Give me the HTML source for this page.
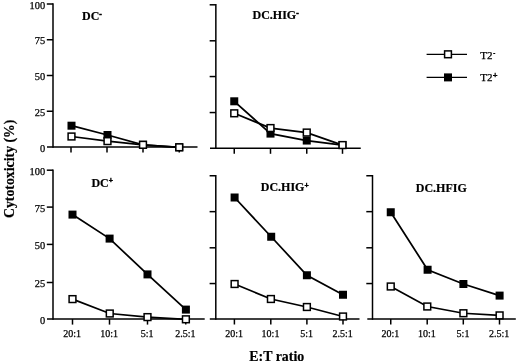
<!DOCTYPE html>
<html><head><meta charset="utf-8"><title>Cytotoxicity chart</title>
<style>
html,body{margin:0;padding:0;background:#fff;}
body{width:520px;height:363px;overflow:hidden;font-family:"Liberation Serif",serif;}
svg{display:block;}
</style></head><body>
<svg width="520" height="363" viewBox="0 0 520 363">
<defs><filter id="soft" x="0" y="0" width="520" height="363" filterUnits="userSpaceOnUse"><feGaussianBlur stdDeviation="0.45"/></filter></defs>
<rect width="520" height="363" fill="#fff"/>
<g filter="url(#soft)">
<g stroke="#000" stroke-width="1.5" fill="none" stroke-linecap="butt">
<path d="M53 3.25 V147.75"/>
<path d="M47 147 H197.5"/>
<path d="M46.8 4 H53"/>
<path d="M46.8 39.75 H53"/>
<path d="M46.8 75.5 H53"/>
<path d="M46.8 111.25 H53"/>
<path d="M71 147 V152.5"/>
<path d="M107 147 V152.5"/>
<path d="M143 147 V152.5"/>
<path d="M179.25 147 V152.5"/>
<path d="M215.85 4.05 V149.05"/>
<path d="M210 148.3 H360.75"/>
<path d="M209.65 4.8 H215.85"/>
<path d="M209.65 40.8 H215.85"/>
<path d="M209.65 76.55 H215.85"/>
<path d="M209.65 112.55 H215.85"/>
<path d="M234.25 148.3 V153.8"/>
<path d="M270.5 148.3 V153.8"/>
<path d="M306.75 148.3 V153.8"/>
<path d="M342.5 148.3 V153.8"/>
<path d="M53 169.45 V319.85"/>
<path d="M47 319.1 H204.7"/>
<path d="M46.8 170.2 H53"/>
<path d="M46.8 207.1 H53"/>
<path d="M46.8 244.4 H53"/>
<path d="M46.8 282.5 H53"/>
<path d="M72.5 319.1 V324.6"/>
<path d="M109.5 319.1 V324.6"/>
<path d="M147.5 319.1 V324.6"/>
<path d="M185.75 319.1 V324.6"/>
<path d="M215.8 175.0 V319.75"/>
<path d="M209.8 319.0 H359.5"/>
<path d="M209.60000000000002 175.75 H215.8"/>
<path d="M209.60000000000002 211.65 H215.8"/>
<path d="M209.60000000000002 247.8 H215.8"/>
<path d="M209.60000000000002 283.55 H215.8"/>
<path d="M234.4 319.0 V324.5"/>
<path d="M270.8 319.0 V324.5"/>
<path d="M306.9 319.0 V324.5"/>
<path d="M343 319.0 V324.5"/>
<path d="M372.5 175.0 V319.75"/>
<path d="M367.3 319.0 H515.8"/>
<path d="M366.3 175.75 H372.5"/>
<path d="M366.3 211.65 H372.5"/>
<path d="M366.3 247.8 H372.5"/>
<path d="M366.3 283.55 H372.5"/>
<path d="M390.75 319.0 V324.5"/>
<path d="M427.2 319.0 V324.5"/>
<path d="M463.3 319.0 V324.5"/>
<path d="M499.5 319.0 V324.5"/>
</g>
<polyline fill="none" stroke="#000" stroke-width="1.75" points="71.5,125.7 107.5,135 143,144.8 179.25,147.3"/>
<polyline fill="none" stroke="#000" stroke-width="1.75" points="71.5,136.5 107.5,141.1 143,144.8 179.25,147.3"/>
<rect x="67.50" y="121.70" width="8.0" height="8.0" fill="#000"/>
<rect x="103.50" y="131.00" width="8.0" height="8.0" fill="#000"/>
<rect x="139.00" y="140.80" width="8.0" height="8.0" fill="#000"/>
<rect x="175.25" y="143.30" width="8.0" height="8.0" fill="#000"/>
<rect x="68.10" y="133.10" width="6.8" height="6.8" fill="#fff" stroke="#000" stroke-width="1.5"/>
<rect x="104.10" y="137.70" width="6.8" height="6.8" fill="#fff" stroke="#000" stroke-width="1.5"/>
<rect x="139.60" y="141.40" width="6.8" height="6.8" fill="#fff" stroke="#000" stroke-width="1.5"/>
<rect x="175.85" y="143.90" width="6.8" height="6.8" fill="#fff" stroke="#000" stroke-width="1.5"/>
<polyline fill="none" stroke="#000" stroke-width="1.75" points="234.25,101.3 270.5,133.60000000000002 306.75,140.55 342.5,145.05"/>
<polyline fill="none" stroke="#000" stroke-width="1.75" points="234.25,113.3 270.5,128.05 306.75,132.55 342.5,145.05"/>
<rect x="230.25" y="97.30" width="8.0" height="8.0" fill="#000"/>
<rect x="266.50" y="129.60" width="8.0" height="8.0" fill="#000"/>
<rect x="302.75" y="136.55" width="8.0" height="8.0" fill="#000"/>
<rect x="338.50" y="141.05" width="8.0" height="8.0" fill="#000"/>
<rect x="230.85" y="109.90" width="6.8" height="6.8" fill="#fff" stroke="#000" stroke-width="1.5"/>
<rect x="267.10" y="124.65" width="6.8" height="6.8" fill="#fff" stroke="#000" stroke-width="1.5"/>
<rect x="303.35" y="129.15" width="6.8" height="6.8" fill="#fff" stroke="#000" stroke-width="1.5"/>
<rect x="339.10" y="141.65" width="6.8" height="6.8" fill="#fff" stroke="#000" stroke-width="1.5"/>
<polyline fill="none" stroke="#000" stroke-width="1.75" points="72.5,214.6 109.6,238.6 147.5,274.40000000000003 185.9,309.6"/>
<polyline fill="none" stroke="#000" stroke-width="1.75" points="72.5,299.1 109.75,313.5 147.5,317.1 185.9,319.3"/>
<rect x="68.50" y="210.60" width="8.0" height="8.0" fill="#000"/>
<rect x="105.60" y="234.60" width="8.0" height="8.0" fill="#000"/>
<rect x="143.50" y="270.40" width="8.0" height="8.0" fill="#000"/>
<rect x="181.90" y="305.60" width="8.0" height="8.0" fill="#000"/>
<rect x="69.10" y="295.70" width="6.8" height="6.8" fill="#fff" stroke="#000" stroke-width="1.5"/>
<rect x="106.35" y="310.10" width="6.8" height="6.8" fill="#fff" stroke="#000" stroke-width="1.5"/>
<rect x="144.10" y="313.70" width="6.8" height="6.8" fill="#fff" stroke="#000" stroke-width="1.5"/>
<rect x="182.50" y="315.90" width="6.8" height="6.8" fill="#fff" stroke="#000" stroke-width="1.5"/>
<polyline fill="none" stroke="#000" stroke-width="1.75" points="234.6,197.5 271.2,236.75 306.9,275.25 343,294.75"/>
<polyline fill="none" stroke="#000" stroke-width="1.75" points="234.6,284.0 270.9,299.0 306.9,307.0 343,316.5"/>
<rect x="230.60" y="193.50" width="8.0" height="8.0" fill="#000"/>
<rect x="267.20" y="232.75" width="8.0" height="8.0" fill="#000"/>
<rect x="302.90" y="271.25" width="8.0" height="8.0" fill="#000"/>
<rect x="339.00" y="290.75" width="8.0" height="8.0" fill="#000"/>
<rect x="231.20" y="280.60" width="6.8" height="6.8" fill="#fff" stroke="#000" stroke-width="1.5"/>
<rect x="267.50" y="295.60" width="6.8" height="6.8" fill="#fff" stroke="#000" stroke-width="1.5"/>
<rect x="303.50" y="303.60" width="6.8" height="6.8" fill="#fff" stroke="#000" stroke-width="1.5"/>
<rect x="339.60" y="313.10" width="6.8" height="6.8" fill="#fff" stroke="#000" stroke-width="1.5"/>
<polyline fill="none" stroke="#000" stroke-width="1.75" points="390.75,212.25 427.6,269.75 463.4,284.0 499.6,295.6"/>
<polyline fill="none" stroke="#000" stroke-width="1.75" points="390.75,286.5 427.3,306.5 463.4,313.25 499.6,315.4"/>
<rect x="386.75" y="208.25" width="8.0" height="8.0" fill="#000"/>
<rect x="423.60" y="265.75" width="8.0" height="8.0" fill="#000"/>
<rect x="459.40" y="280.00" width="8.0" height="8.0" fill="#000"/>
<rect x="495.60" y="291.60" width="8.0" height="8.0" fill="#000"/>
<rect x="387.35" y="283.10" width="6.8" height="6.8" fill="#fff" stroke="#000" stroke-width="1.5"/>
<rect x="423.90" y="303.10" width="6.8" height="6.8" fill="#fff" stroke="#000" stroke-width="1.5"/>
<rect x="460.00" y="309.85" width="6.8" height="6.8" fill="#fff" stroke="#000" stroke-width="1.5"/>
<rect x="496.20" y="312.00" width="6.8" height="6.8" fill="#fff" stroke="#000" stroke-width="1.5"/>
<g font-family="Liberation Serif, serif" font-size="10.4" fill="#000" stroke="#000" stroke-width="0.25">
<text x="45.2" y="8.50" text-anchor="end">100</text>
<text x="45.2" y="44.25" text-anchor="end">75</text>
<text x="45.2" y="80.00" text-anchor="end">50</text>
<text x="45.2" y="115.75" text-anchor="end">25</text>
<text x="45.2" y="151.50" text-anchor="end">0</text>
<text x="45.2" y="174.70" text-anchor="end">100</text>
<text x="45.2" y="211.60" text-anchor="end">75</text>
<text x="45.2" y="248.90" text-anchor="end">50</text>
<text x="45.2" y="287.00" text-anchor="end">25</text>
<text x="45.2" y="323.60" text-anchor="end">0</text>
<text x="72.20" y="337.2" text-anchor="middle" font-size="10">20:1</text>
<text x="109.20" y="337.2" text-anchor="middle" font-size="10">10:1</text>
<text x="147.20" y="337.2" text-anchor="middle" font-size="10">5:1</text>
<text x="185.45" y="337.2" text-anchor="middle" font-size="10">2.5:1</text>
<text x="234.10" y="337.2" text-anchor="middle" font-size="10">20:1</text>
<text x="270.50" y="337.2" text-anchor="middle" font-size="10">10:1</text>
<text x="306.60" y="337.2" text-anchor="middle" font-size="10">5:1</text>
<text x="342.70" y="337.2" text-anchor="middle" font-size="10">2.5:1</text>
<text x="390.45" y="337.2" text-anchor="middle" font-size="10">20:1</text>
<text x="426.90" y="337.2" text-anchor="middle" font-size="10">10:1</text>
<text x="463.00" y="337.2" text-anchor="middle" font-size="10">5:1</text>
<text x="499.20" y="337.2" text-anchor="middle" font-size="10">2.5:1</text>
</g>
<g font-family="Liberation Serif, serif" font-size="12" font-weight="bold" fill="#000" stroke="#000" stroke-width="0.2">
<text x="82" y="20.2">DC<tspan dy="-3.6" font-size="7.5" stroke-width="0.55">-</tspan></text>
<text x="252.5" y="19.1">DC.HIG<tspan dy="-3.6" font-size="7.5" stroke-width="0.55">-</tspan></text>
<text x="91.4" y="186.5">DC<tspan dy="-3.6" font-size="7.5" stroke-width="0.55">+</tspan></text>
<text x="260.75" y="191.3">DC.HIG<tspan dy="-3.6" font-size="7.5" stroke-width="0.55">+</tspan></text>
<text x="415.75" y="192.3">DC.HFIG</text>
</g>
<g stroke="#000" stroke-width="1.3"><path d="M426.6 54.3 H467"/><path d="M426.6 77.4 H467"/></g>
<rect x="444.60" y="50.90" width="6.8" height="6.8" fill="#fff" stroke="#000" stroke-width="1.5"/>
<rect x="444.00" y="73.40" width="8.0" height="8.0" fill="#000"/>
<g font-family="Liberation Serif, serif" font-size="11" fill="#000" stroke="#000" stroke-width="0.25">
<text x="480.2" y="58.5">T2<tspan dx="0.8" dy="-3.6" font-size="6" font-weight="bold" stroke-width="0.4">-</tspan></text>
<text x="480.2" y="81.4">T2<tspan dx="0.4" dy="-3.3" font-size="8.5" font-weight="bold" stroke-width="0.4">+</tspan></text>
</g>
<text x="249.3" y="360.8" font-family="Liberation Serif, serif" font-size="13.9" font-weight="bold" fill="#000" stroke="#000" stroke-width="0.2">E:T ratio</text>
<text transform="translate(13.6,218) rotate(-90)" font-family="Liberation Serif, serif" font-size="13.8" font-weight="bold" fill="#000" stroke="#000" stroke-width="0.2">Cytotoxicity (%)</text>
</g>
</svg>
</body></html>
